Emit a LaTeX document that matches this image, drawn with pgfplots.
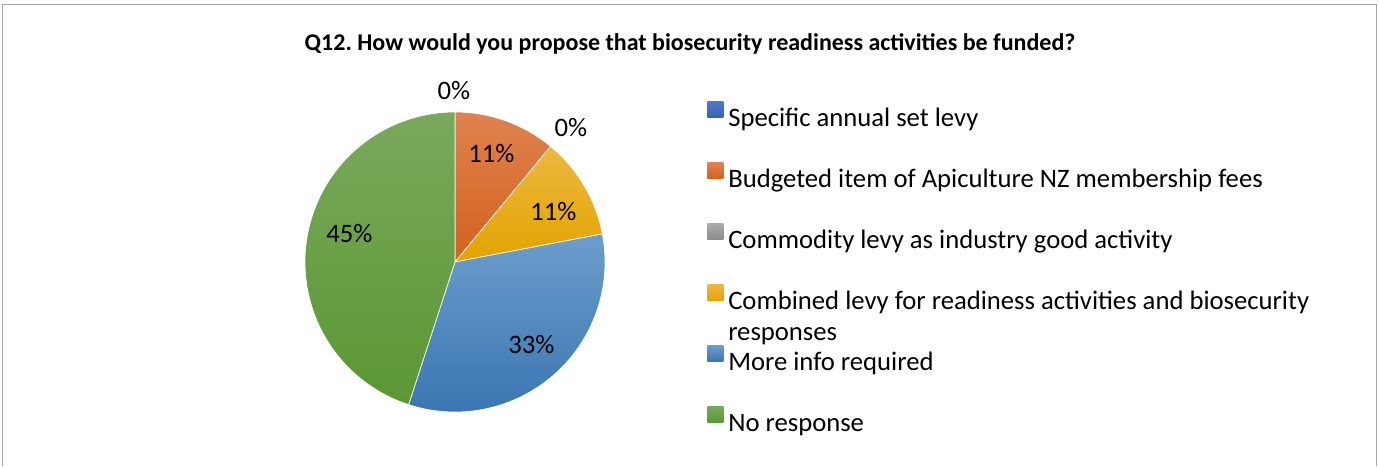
\documentclass[border=0pt]{standalone}
\usepackage{pgfplots}
\pgfplotsset{compat=1.18}
\usepackage{fontspec}
\setmainfont{Carlito}
\frenchspacing
\definecolor{sbT}{HTML}{5079C8}\definecolor{sbB}{HTML}{3A62B0}
\definecolor{orT}{HTML}{E0824F}\definecolor{orB}{HTML}{D3621C}
\definecolor{grT}{HTML}{ABABAB}\definecolor{grB}{HTML}{8C8C8C}
\definecolor{ylT}{HTML}{EEB840}\definecolor{ylB}{HTML}{E2A300}
\definecolor{lbT}{HTML}{6C9DCC}\definecolor{lbB}{HTML}{3B76B2}
\definecolor{gnT}{HTML}{79A95C}\definecolor{gnB}{HTML}{5B9733}
\definecolor{frame}{HTML}{A6A6A6}
\newcommand{\LE}[1]{\rule[-5pt]{0pt}{20pt}\smash{#1}}
\begin{document}
\begin{tikzpicture}
\begin{axis}[
  scale only axis, width=1034.25pt, height=349.5pt,
  xmin=0, xmax=1379, ymin=0, ymax=466, y dir=reverse,
  hide axis, clip=false,
  title={Q12. How would you propose that biosecurity readiness activities be funded?},
  title style={at={(0.5004,0.8755)}, anchor=base, inner sep=0pt, font=\bfseries\fontsize{18}{21}\selectfont},
  legend style={at={(0.51269,0.7833)}, anchor=north west, draw=none, fill=none, inner sep=0pt,
    row sep=25pt, column sep=3.75pt, font=\fontsize{20}{23.25}\selectfont, nodes={inner sep=0pt}},
  legend cell align=left,
  legend image code/.code={\path[#1, draw=none] (0pt,0.5pt) rectangle (12pt,12.5pt);},
]
\path (axis cs:0,0) rectangle (axis cs:1379,466);
\draw[frame, line width=1pt] (axis cs:2.5,466) -- (axis cs:2.5,4.5) -- (axis cs:1376.5,4.5) -- (axis cs:1376.5,466);
% percentages: Specific annual set levy 0, Budgeted 11, Commodity 0, Combined 11, More info 33, No response 45
\addplot[forget plot, draw=white, line width=0.5pt, top color=orT, bottom color=orB, domain={90-3.6*11}:{90}, samples=60]
  ({455+150*cos(x)}, {262-150*sin(x)}) -- (axis cs:455,262) -- cycle;
\addplot[forget plot, draw=white, line width=0.5pt, top color=ylT, bottom color=ylB, domain={90-3.6*22}:{90-3.6*11}, samples=60]
  ({455+150*cos(x)}, {262-150*sin(x)}) -- (axis cs:455,262) -- cycle;
\addplot[forget plot, draw=white, line width=0.5pt, top color=lbT, bottom color=lbB, domain={90-3.6*55}:{90-3.6*22}, samples=120]
  ({455+150*cos(x)}, {262-150*sin(x)}) -- (axis cs:455,262) -- cycle;
\addplot[forget plot, draw=white, line width=0.5pt, top color=gnT, bottom color=gnB, domain={90-3.6*100}:{90-3.6*55}, samples=150]
  ({455+150*cos(x)}, {262-150*sin(x)}) -- (axis cs:455,262) -- cycle;
\addlegendimage{top color=sbT, bottom color=sbB}
\addlegendentry{\LE{Specific annual set levy}}
\addlegendimage{top color=orT, bottom color=orB}
\addlegendentry{\LE{Budgeted item of Apiculture NZ membership fees}}
\addlegendimage{top color=grT, bottom color=grB}
\addlegendentry{\LE{Commodity levy as industry good activity}}
\addlegendimage{top color=ylT, bottom color=ylB}
\addlegendentry{\LE{\begin{tabular}[t]{@{}l@{}}Combined levy for readiness activities and biosecurity\\responses\end{tabular}}}
\addlegendimage{top color=lbT, bottom color=lbB}
\addlegendentry{\LE{More info required}}
\addlegendimage{top color=gnT, bottom color=gnB}
\addlegendentry{\LE{No response}}
\node[anchor=base, font=\fontsize{20}{24}\selectfont] at (axis cs:454,100) {0\%};
\node[anchor=base, font=\fontsize{20}{24}\selectfont] at (axis cs:571,137) {0\%};
\node[anchor=base, font=\fontsize{20}{24}\selectfont] at (axis cs:491.5,163) {11\%};
\node[anchor=base, font=\fontsize{20}{24}\selectfont] at (axis cs:553.5,221) {11\%};
\node[anchor=base, font=\fontsize{20}{24}\selectfont] at (axis cs:531.5,353) {33\%};
\node[anchor=base, font=\fontsize{20}{24}\selectfont] at (axis cs:349.5,243) {45\%};
\end{axis}
\end{tikzpicture}
\end{document}
